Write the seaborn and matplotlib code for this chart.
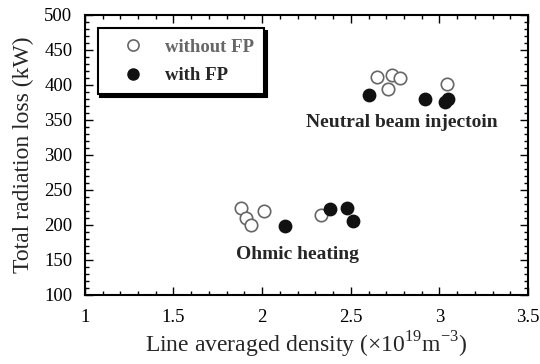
import matplotlib
matplotlib.use("Agg")
import numpy as np
import pandas as pd
import matplotlib.pyplot as plt
import seaborn as sns
from matplotlib.ticker import MultipleLocator
from matplotlib.lines import Line2D

# data
nbi_wo_x = [2.65, 2.73, 2.78, 2.71, 3.04]
nbi_wo_y = [412, 414, 410, 394, 402]
nbi_w_x = [2.60, 2.92, 3.03, 3.05]
nbi_w_y = [386, 380, 375, 380]
oh_wo_x = [1.88, 1.91, 1.94, 2.01, 2.33]
oh_wo_y = [224, 210, 200, 220, 214]
oh_w_x = [2.13, 2.38, 2.48, 2.51]
oh_w_y = [199, 223, 224, 206]

df = pd.DataFrame({
    "density": nbi_wo_x + oh_wo_x + nbi_w_x + oh_w_x,
    "loss": nbi_wo_y + oh_wo_y + nbi_w_y + oh_w_y,
    "case": ["without FP"] * 10 + ["with FP"] * 8,
})

sns.set_style("ticks")
plt.rcParams["font.family"] = ["Liberation Serif", "DejaVu Serif"]
plt.rcParams["mathtext.fontset"] = "custom"
plt.rcParams["mathtext.rm"] = "Liberation Serif"

fig = plt.figure(figsize=(5.4, 3.64), dpi=100)
ax = fig.add_axes([0.157, 0.19, 0.821, 0.769])

wo = df[df["case"] == "without FP"]
w = df[df["case"] == "with FP"]
sns.scatterplot(data=wo, x="density", y="loss", ax=ax, s=80, facecolor="white",
                edgecolor="#666666", linewidth=1.2, legend=False, zorder=3)
sns.scatterplot(data=w, x="density", y="loss", ax=ax, s=80, color="#111111",
                edgecolor="#111111", linewidth=1.0, legend=False, zorder=4)

ax.set_xlim(1, 3.5)
ax.set_ylim(100, 500)
ax.xaxis.set_major_locator(MultipleLocator(0.5))
ax.xaxis.set_minor_locator(MultipleLocator(0.1))
ax.yaxis.set_major_locator(MultipleLocator(50))
ax.yaxis.set_minor_locator(MultipleLocator(10))
ax.set_xticks([1, 1.5, 2, 2.5, 3, 3.5])
ax.set_xticklabels(["1", "1.5", "2", "2.5", "3", "3.5"])
ax.tick_params(which="both", direction="in", top=True, right=True, width=1.0,
               labelsize=13.5, colors="black")
ax.tick_params(which="major", length=6)
ax.tick_params(which="minor", length=3)
ax.tick_params(axis="x", pad=10)
ax.tick_params(axis="y", pad=9)
for sp in ax.spines.values():
    sp.set_linewidth(1.5)
    sp.set_color("black")

ax.set_xlabel("Line averaged density (×10$^{19}$m$^{-3}$)", fontsize=17, labelpad=3)
ax.set_ylabel("Total radiation loss (kW)", fontsize=17, labelpad=7)

ax.text(2.79, 346, "Neutral beam injectoin", fontsize=14, fontweight="bold",
        ha="center", va="center")
ax.text(2.20, 157, "Ohmic heating", fontsize=14, fontweight="bold",
        ha="center", va="center")

handles = [
    Line2D([], [], marker="o", ls="", markersize=8, markerfacecolor="white",
           markeredgecolor="#666666", markeredgewidth=1.2),
    Line2D([], [], marker="o", ls="", markersize=8, markerfacecolor="#111111",
           markeredgecolor="#111111"),
]
leg = ax.legend(handles, ["without FP", "with FP"], loc="upper left",
                bbox_to_anchor=(0.029, 0.952), borderaxespad=0, fancybox=False,
                framealpha=1, edgecolor="black",
                shadow={"facecolor": "black", "edgecolor": "black", "alpha": 1},
                prop={"weight": "bold", "size": 13.5}, handletextpad=0.35,
                borderpad=0.55, labelspacing=0.6, handlelength=2.7)
leg.get_frame().set_linewidth(1.5)
leg.get_texts()[0].set_color("#666666")

fig.savefig("out.png", dpi=100)
